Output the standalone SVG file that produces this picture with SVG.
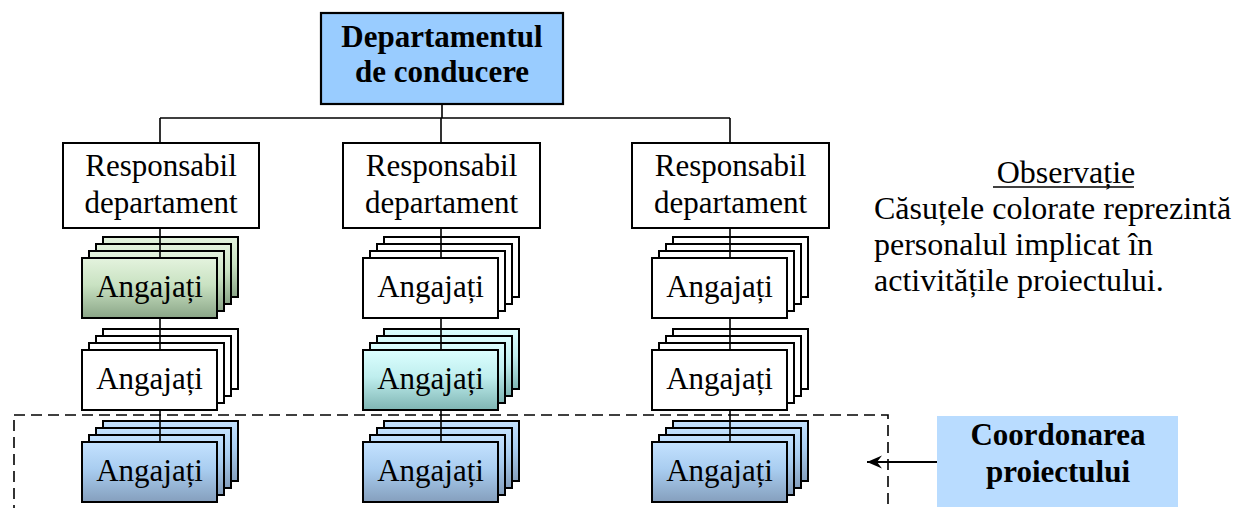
<svg xmlns="http://www.w3.org/2000/svg" width="1234" height="508" viewBox="0 0 1234 508">
  <defs>
    <linearGradient id="gGreen" x1="0" y1="0" x2="0" y2="1">
      <stop offset="0" stop-color="#e4f3de"/>
      <stop offset="0.45" stop-color="#c9e2c2"/>
      <stop offset="1" stop-color="#8aa587"/>
    </linearGradient>
    <linearGradient id="gCyan" x1="0" y1="0" x2="0" y2="1">
      <stop offset="0" stop-color="#dcffff"/>
      <stop offset="0.45" stop-color="#bfeeee"/>
      <stop offset="1" stop-color="#7fb5b3"/>
    </linearGradient>
    <linearGradient id="gBlue" x1="0" y1="0" x2="0" y2="1">
      <stop offset="0" stop-color="#c4e2ff"/>
      <stop offset="0.45" stop-color="#a9cdf0"/>
      <stop offset="1" stop-color="#859fbd"/>
    </linearGradient>
    <marker id="arrow" markerWidth="16" markerHeight="14" refX="15" refY="7" orient="auto" markerUnits="userSpaceOnUse">
      <path d="M15,7 L0,0.5 L5,7 L0,13.5 Z" fill="#000"/>
    </marker>
    <!-- one sheet of a stack: 135 x 60 -->
    <rect id="sheet" width="135" height="60"/>
  </defs>
  <style>
    .box { fill: #fff; stroke: #000; stroke-width: 2; }
    .green { fill: url(#gGreen); }
    .cyan { fill: url(#gCyan); }
    .blue { fill: url(#gBlue); }
    .plain { fill: #fff; }
    .sheet { stroke: #000; stroke-width: 2; }
    text { font-family: 'Liberation Serif', 'DejaVu Serif', serif; }
    .t { font-size: 31px; fill: #000; text-anchor: middle; }
    .b { font-weight: bold; font-size: 31px; }
    .n { font-size: 32px; }
    .lft { text-anchor: start; }
    .wire { fill: none; stroke: #000; stroke-width: 1.6; }
    .dash { fill: none; stroke: #000; stroke-width: 1.6; stroke-dasharray: 11 6; }
  </style>

  <rect width="1234" height="508" fill="#fff"/>

  <!-- project coordination frame -->
  <rect class="dash" x="14" y="415" width="874" height="120"/>

  <!-- head department -->
  <g id="head">
    <rect x="321" y="13" width="242" height="91" fill="#99ccff" stroke="#000" stroke-width="2.2"/>
    <text class="t b" x="442" y="47">Departamentul</text>
    <text class="t b" x="442" y="82">de conducere</text>
  </g>

  <!-- department heads -->
  <g id="resp1">
    <rect class="box" x="63" y="143" width="196" height="85"/>
    <text class="t" x="161" y="176">Responsabil</text>
    <text class="t" x="161" y="213">departament</text>
  </g>
  <g id="resp2">
    <rect class="box" x="343" y="143" width="197" height="85"/>
    <text class="t" x="441.5" y="176">Responsabil</text>
    <text class="t" x="441.5" y="213">departament</text>
  </g>
  <g id="resp3">
    <rect class="box" x="632" y="143" width="197" height="85"/>
    <text class="t" x="730.5" y="176">Responsabil</text>
    <text class="t" x="730.5" y="213">departament</text>
  </g>

  <!-- employee stacks: three sheets behind, one in front -->
  <g id="emp-1-1">
    <use href="#sheet" class="sheet green" x="103" y="237"/>
    <use href="#sheet" class="sheet green" x="96" y="244"/>
    <use href="#sheet" class="sheet green" x="89" y="251"/>
    <use href="#sheet" class="sheet green" x="82" y="258"/>
    <text class="t" x="149.5" y="297">Angajați</text>
  </g>
  <g id="emp-1-2">
    <use href="#sheet" class="sheet plain" x="103" y="329"/>
    <use href="#sheet" class="sheet plain" x="96" y="336"/>
    <use href="#sheet" class="sheet plain" x="89" y="343"/>
    <use href="#sheet" class="sheet plain" x="82" y="350"/>
    <text class="t" x="149.5" y="389">Angajați</text>
  </g>
  <g id="emp-1-3">
    <use href="#sheet" class="sheet blue" x="103" y="421"/>
    <use href="#sheet" class="sheet blue" x="96" y="428"/>
    <use href="#sheet" class="sheet blue" x="89" y="435"/>
    <use href="#sheet" class="sheet blue" x="82" y="442"/>
    <text class="t" x="149.5" y="481">Angajați</text>
  </g>

  <g id="emp-2-1">
    <use href="#sheet" class="sheet plain" x="384" y="237"/>
    <use href="#sheet" class="sheet plain" x="377" y="244"/>
    <use href="#sheet" class="sheet plain" x="370" y="251"/>
    <use href="#sheet" class="sheet plain" x="363" y="258"/>
    <text class="t" x="430.5" y="297">Angajați</text>
  </g>
  <g id="emp-2-2">
    <use href="#sheet" class="sheet cyan" x="384" y="329"/>
    <use href="#sheet" class="sheet cyan" x="377" y="336"/>
    <use href="#sheet" class="sheet cyan" x="370" y="343"/>
    <use href="#sheet" class="sheet cyan" x="363" y="350"/>
    <text class="t" x="430.5" y="389">Angajați</text>
  </g>
  <g id="emp-2-3">
    <use href="#sheet" class="sheet blue" x="384" y="421"/>
    <use href="#sheet" class="sheet blue" x="377" y="428"/>
    <use href="#sheet" class="sheet blue" x="370" y="435"/>
    <use href="#sheet" class="sheet blue" x="363" y="442"/>
    <text class="t" x="430.5" y="481">Angajați</text>
  </g>

  <g id="emp-3-1">
    <use href="#sheet" class="sheet plain" x="673" y="237"/>
    <use href="#sheet" class="sheet plain" x="666" y="244"/>
    <use href="#sheet" class="sheet plain" x="659" y="251"/>
    <use href="#sheet" class="sheet plain" x="652" y="258"/>
    <text class="t" x="719.5" y="297">Angajați</text>
  </g>
  <g id="emp-3-2">
    <use href="#sheet" class="sheet plain" x="673" y="329"/>
    <use href="#sheet" class="sheet plain" x="666" y="336"/>
    <use href="#sheet" class="sheet plain" x="659" y="343"/>
    <use href="#sheet" class="sheet plain" x="652" y="350"/>
    <text class="t" x="719.5" y="389">Angajați</text>
  </g>
  <g id="emp-3-3">
    <use href="#sheet" class="sheet blue" x="673" y="421"/>
    <use href="#sheet" class="sheet blue" x="666" y="428"/>
    <use href="#sheet" class="sheet blue" x="659" y="435"/>
    <use href="#sheet" class="sheet blue" x="652" y="442"/>
    <text class="t" x="719.5" y="481">Angajați</text>
  </g>

  <!-- note -->
  <g id="note">
    <text class="t n" x="1066" y="183">Observație</text>
    <line x1="993" y1="187" x2="1134" y2="187" stroke="#000" stroke-width="1.5"/>
    <text class="t n lft" x="874" y="219">Căsuțele colorate reprezintă</text>
    <text class="t n lft" x="874" y="255">personalul implicat în</text>
    <text class="t n lft" x="874" y="291">activitățile proiectului.</text>
  </g>

  <!-- coordination label -->
  <g id="coord">
    <rect x="937" y="416" width="241" height="91" fill="#b9dcff"/>
    <text class="t b" x="1058" y="445">Coordonarea</text>
    <text class="t b" x="1058" y="482">proiectului</text>
  </g>

  <!-- connectors -->
  <g id="connectors">
    <path class="wire" d="M442,104 V118 M160,118 H730 M160,118 V143 M441,118 V143 M730,118 V143"/>
    <path class="wire" d="M160,228 V258 M160,318 V350 M160,410 V442"/>
    <path class="wire" d="M441,228 V258 M441,318 V350 M441,410 V442"/>
    <path class="wire" d="M730,228 V258 M730,318 V350 M730,410 V442"/>
    <line x1="937" y1="462" x2="867" y2="462" stroke="#000" stroke-width="2" marker-end="url(#arrow)"/>
  </g>
</svg>
